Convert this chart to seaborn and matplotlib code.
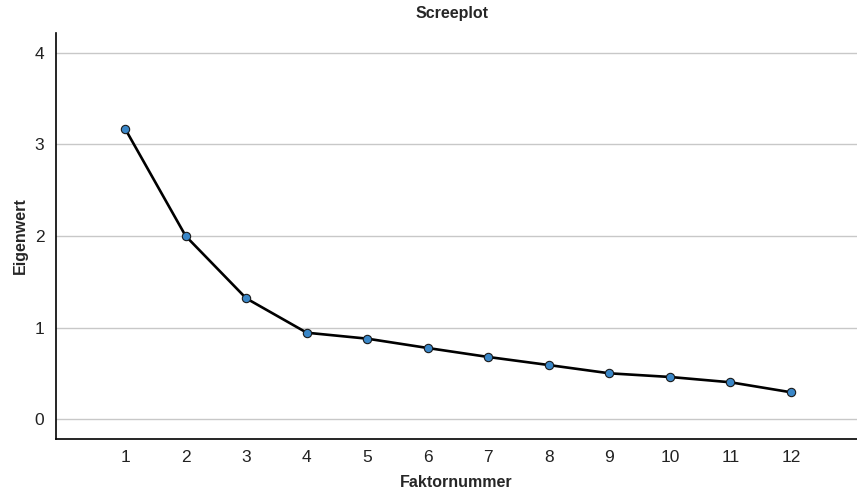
import pandas as pd
import numpy as np
import seaborn as sns
from matplotlib import pyplot as plt

# Scree plot data (eigenvalues per factor)
faktoren = [1, 2, 3, 4, 5, 6, 7, 8, 9, 10, 11, 12]
eigenwerte = [3.17, 2.00, 1.32, 0.945, 0.88, 0.778, 0.68, 0.592, 0.502, 0.462, 0.404, 0.295]
y_ticks = [0, 1, 2, 3, 4]

df = pd.DataFrame({'Faktornummer': faktoren, 'Eigenwert': eigenwerte})

sns.set_theme(style='white')
plt.rcParams['font.family'] = ['Liberation Sans', 'DejaVu Sans']

fig = plt.figure(figsize=(8.57, 4.93), dpi=100)
ax = fig.add_axes([0.0648, 0.1095, 0.9352, 0.8235])

sns.lineplot(data=df, x='Faktornummer', y='Eigenwert', ax=ax, color='black', linewidth=1.9,
             marker='o', markersize=6, markerfacecolor='#3a87c8', markeredgecolor='#1a1a1a',
             markeredgewidth=0.8)

ax.set_xlim(-0.15, 13.09)
ax.set_ylim(-0.215, 4.215)
ax.set_xticks(faktoren)
ax.set_yticks(y_ticks)
ax.tick_params(axis='both', labelsize=12.5, length=0, colors='#222222', pad=8)

ax.yaxis.grid(True, color='#c8c8c8', linewidth=1.0)
ax.xaxis.grid(False)
ax.set_axisbelow(True)

for side in ['top', 'right']:
    ax.spines[side].set_visible(False)
for side in ['left', 'bottom']:
    ax.spines[side].set_color('black')
    ax.spines[side].set_linewidth(1.2)

ax.set_xlabel('Faktornummer', fontsize=11.5, fontweight='bold', labelpad=7)
ax.set_ylabel('Eigenwert', fontsize=11.5, fontweight='bold', labelpad=5)
fig.text(0.528, 0.973, 'Screeplot', ha='center', va='center', fontsize=11.5, fontweight='bold')

plt.savefig('out.png', dpi=100)
